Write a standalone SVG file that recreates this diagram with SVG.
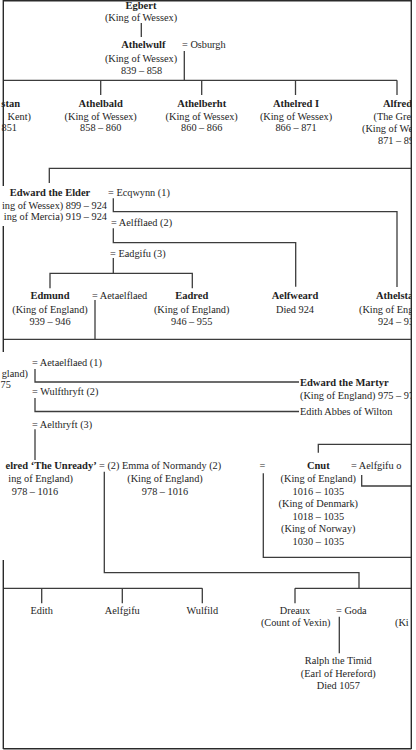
<svg xmlns="http://www.w3.org/2000/svg" width="416" height="750" viewBox="0 0 416 750">
<defs>
<style>
text{font-family:"Liberation Serif","Times New Roman",serif;font-size:10.3px;fill:#1e1e1e}
.b{font-weight:bold;font-size:10.5px}
.m{text-anchor:middle}
.c line,.c polyline{stroke:#3c3c3c;stroke-width:1.3;fill:none}
.frame line{stroke:#2a2a2a;stroke-width:1.4}
</style>
<clipPath id="pg"><rect x="0" y="0" width="411" height="750"/></clipPath>
</defs>
<rect width="416" height="750" fill="#fff"/>
<g clip-path="url(#pg)">
<g class="c" id="connectors">
<line x1="141.3" y1="23" x2="141.3" y2="37"/>
<line x1="184.3" y1="51" x2="184.3" y2="80.3"/>
<line x1="3.3" y1="80.3" x2="397" y2="80.3"/>
<line x1="100.7" y1="80.3" x2="100.7" y2="95"/>
<line x1="201.7" y1="80.3" x2="201.7" y2="95"/>
<line x1="295.5" y1="80.3" x2="295.5" y2="95"/>
<line x1="397" y1="80.3" x2="397" y2="95"/>
<polyline points="49.3,183 49.3,168.3 411,168.3"/>
<polyline points="113.3,198.3 113.3,211.7 397,211.7 397,287"/>
<polyline points="113.3,228.3 113.3,242.7 295.7,242.7 295.7,286.7"/>
<line x1="113.3" y1="258" x2="113.3" y2="273.3"/>
<polyline points="50,288.3 50,273.3 192.3,273.3 192.3,288.3"/>
<line x1="95" y1="300" x2="95" y2="339.3"/>
<line x1="3.3" y1="339.3" x2="411" y2="339.3"/>
<polyline points="35,369 35,382 299,382"/>
<polyline points="35,398 35,411.5 299,411.5"/>
<line x1="35" y1="429.3" x2="35" y2="460"/>
<polyline points="318.3,452.7 318.3,444.3 411,444.3"/>
<polyline points="361.7,475 361.7,486 411,486"/>
<polyline points="263.3,473.3 263.3,557.3 411,557.3"/>
<polyline points="104.3,471.7 104.3,572.7 359,572.7 359,588.3"/>
<line x1="3.3" y1="588.3" x2="202.3" y2="588.3"/>
<line x1="41.7" y1="588.3" x2="41.7" y2="603.3"/>
<line x1="122.3" y1="588.3" x2="122.3" y2="603.3"/>
<line x1="202.3" y1="588.3" x2="202.3" y2="603.3"/>
<line x1="295" y1="588.3" x2="411" y2="588.3"/>
<line x1="295" y1="588.3" x2="295" y2="603.3"/>
<line x1="339.3" y1="616.7" x2="339.3" y2="653.3"/>
</g>
<g id="egbert"><text class="b m" x="141" y="8.5">Egbert</text><text class="m" x="141" y="20.5">(King of Wessex)</text></g>
<g id="athelwulf"><text class="b m" x="143.3" y="48">Athelwulf</text><text class="m" x="141" y="61.5">(King of Wessex)</text><text class="m" x="141.5" y="73.5">839 – 858</text></g>
<g id="osburgh"><text x="182" y="48">=  Osburgh</text></g>
<g id="athelstan-kent"><text class="b" x="20" y="107" text-anchor="end">stan</text><text x="31" y="120" text-anchor="end">Kent)</text><text x="17" y="130.5" text-anchor="end">851</text></g>
<g id="athelbald"><text class="b m" x="100.7" y="107">Athelbald</text><text class="m" x="100.7" y="120">(King of Wessex)</text><text class="m" x="100.7" y="130.5">858 – 860</text></g>
<g id="athelberht"><text class="b m" x="201.7" y="107">Athelberht</text><text class="m" x="201.7" y="120">(King of Wessex)</text><text class="m" x="201.7" y="130.5">860 – 866</text></g>
<g id="athelred1"><text class="b m" x="296" y="107">Athelred I</text><text class="m" x="296" y="120">(King of Wessex)</text><text class="m" x="296" y="130.5">866 – 871</text></g>
<g id="alfred"><text class="b" x="383" y="107">Alfred</text><text x="373.5" y="120">(The Gre</text><text x="362" y="132">(King of We</text><text x="378" y="144">871 – 89</text></g>
<g id="edward-elder"><text class="b m" x="50" y="195.5">Edward the Elder</text><text x="107" y="209" text-anchor="end">ing of Wessex) 899 – 924</text><text x="107" y="220" text-anchor="end">ing of Mercia) 919 – 924</text></g>
<g id="ecqwynn"><text x="108" y="195.5">=  Ecqwynn (1)</text></g>
<g id="aelfflaed"><text x="111" y="226">=  Aelfflaed (2)</text></g>
<g id="eadgifu"><text x="110" y="256.5">=  Eadgifu (3)</text></g>
<g id="edmund"><text class="b m" x="50" y="299">Edmund</text><text class="m" x="50" y="312.5">(King of England)</text><text class="m" x="50" y="325">939 – 946</text></g>
<g id="aetaelflaed"><text x="92" y="299">=  Aetaelflaed</text></g>
<g id="eadred"><text class="b m" x="191.7" y="299">Eadred</text><text class="m" x="191.7" y="312.5">(King of England)</text><text class="m" x="191.7" y="325">946 – 955</text></g>
<g id="aelfweard"><text class="b m" x="295" y="299">Aelfweard</text><text class="m" x="295" y="312.5">Died 924</text></g>
<g id="athelstan"><text class="b" x="376" y="299">Athelsta</text><text x="359" y="312.5">(King of Eng</text><text x="378" y="325">924 – 93</text></g>
<g id="edgar"><text x="28" y="376.5" text-anchor="end">gland)</text><text x="0.5" y="388">75</text></g>
<g id="aetaelflaed1"><text x="32" y="365.5">=  Aetaelflaed (1)</text></g>
<g id="wulfthryft"><text x="32" y="395">=  Wulfthryft (2)</text></g>
<g id="aelthryft"><text x="32" y="427.5">=  Aelthryft (3)</text></g>
<g id="edward-martyr"><text class="b" x="300" y="385.5">Edward the Martyr</text><text x="300" y="398.5">(King of England) 975 – 97</text></g>
<g id="edith-wilton"><text x="300" y="414.5">Edith Abbes of Wilton</text></g>
<g id="aethelred"><text class="b" x="96.7" y="469" text-anchor="end">elred ‘The Unready’</text><text x="73" y="481.5" text-anchor="end">ing of England)</text><text class="m" x="35" y="495">978 – 1016</text></g>
<g id="emma"><text x="99" y="469">=  (2) Emma of Normandy (2)</text><text class="m" x="165" y="481.5">(King of England)</text><text class="m" x="165" y="495">978 – 1016</text></g>
<g id="eq-cnut"><text class="m" x="262.5" y="469">=</text></g>
<g id="cnut"><text class="b m" x="318.3" y="469">Cnut</text><text class="m" x="318.3" y="481.5">(King of England)</text><text class="m" x="318.3" y="495">1016 – 1035</text><text class="m" x="318.3" y="507">(King of Denmark)</text><text class="m" x="318.3" y="519.5">1018 – 1035</text><text class="m" x="318.3" y="532">(King of Norway)</text><text class="m" x="318.3" y="544.5">1030 – 1035</text></g>
<g id="aelfgifu-n"><text x="351" y="469">=  Aelfgifu o</text></g>
<g id="edith"><text class="m" x="41.7" y="614">Edith</text></g>
<g id="aelfgifu"><text class="m" x="122.3" y="614">Aelfgifu</text></g>
<g id="wulfild"><text class="m" x="202.3" y="614">Wulfild</text></g>
<g id="dreaux"><text class="m" x="295" y="614">Dreaux</text><text class="m" x="295.7" y="626">(Count of Vexin)</text></g>
<g id="goda"><text x="336" y="614">=  Goda</text></g>
<g id="ralph"><text class="m" x="338.3" y="664">Ralph the Timid</text><text class="m" x="338.3" y="676.5">(Earl of Hereford)</text><text class="m" x="338.3" y="689">Died 1057</text></g>
<g id="edward-conf"><text x="395" y="626">(Ki</text></g>
</g>
<g class="frame" id="frame">
<line x1="3.3" y1="0.7" x2="411.3" y2="0.7"/>
<line x1="3.3" y1="0" x2="3.3" y2="186"/>
<line x1="3.3" y1="226" x2="3.3" y2="352"/>
<line x1="3.3" y1="560" x2="3.3" y2="749"/>
<line x1="411.3" y1="0" x2="411.3" y2="749"/>
<line x1="3.3" y1="748.7" x2="411.3" y2="748.7"/>
</g>
</svg>
